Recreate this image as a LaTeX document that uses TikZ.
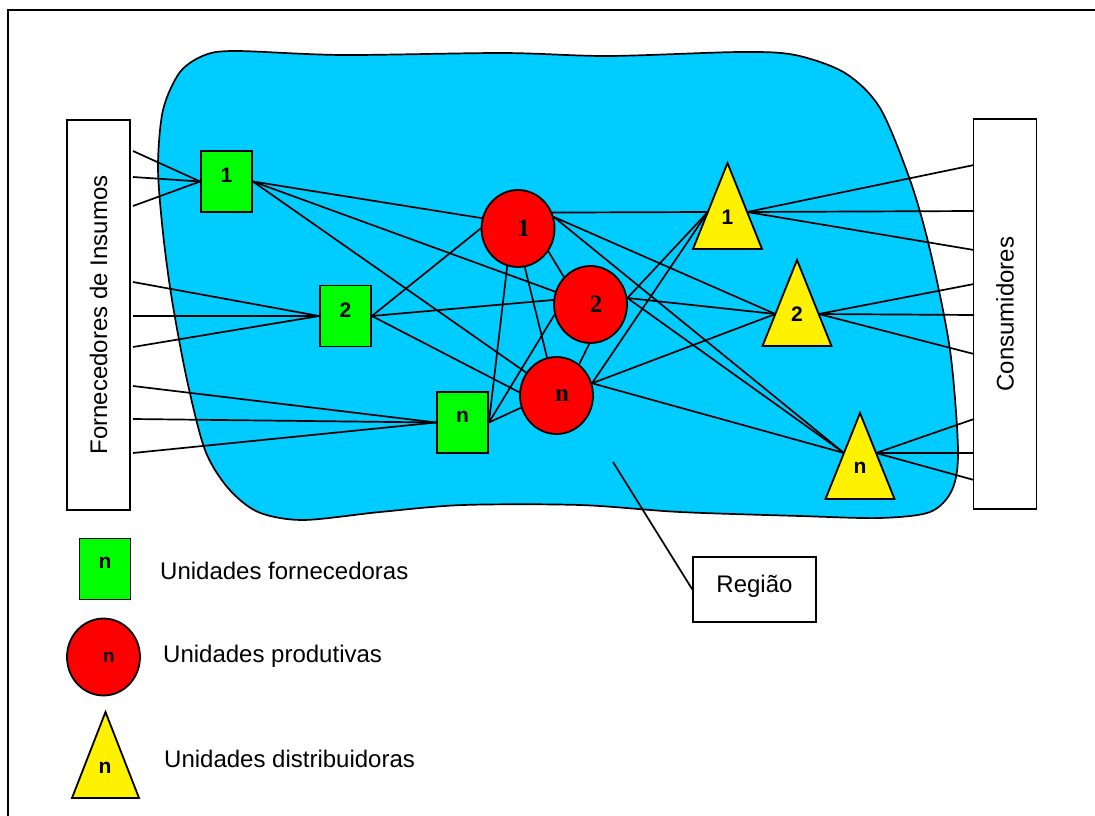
\documentclass[tikz,border=0pt]{standalone}
\usepackage{fontspec}
\setmainfont{Liberation Sans}
\newfontfamily\timesf{Liberation Serif}
\usetikzlibrary{shapes.geometric}

\definecolor{azulreg}{RGB}{0,204,255}

\tikzset{
    lig/.style={line width=1.7pt},
    forn/.style={draw, line width=1.8pt, fill=green, minimum width=51pt, minimum height=61pt,
        inner sep=0pt, font=\fontsize{21}{21}\selectfont\bfseries},
    prod/.style={draw, line width=1.8pt, fill=red, ellipse, minimum width=73pt, minimum height=77pt,
        inner sep=0pt, font=\fontsize{25}{25}\selectfont\timesf\bfseries},
    distr/.style={draw, line width=1.8pt, fill=yellow, line join=miter},
    rotulo/.style={font=\fontsize{21}{21}\selectfont\bfseries, inner sep=0pt},
    caixa/.style={draw, line width=1.3pt, fill=white, rotate=90, minimum width=390pt,
        minimum height=63pt, inner sep=0pt, font=\fontsize{24}{24}\selectfont},
    legenda/.style={anchor=base west, inner sep=0pt, font=\fontsize{24}{24}\selectfont},
}
\newcommand{\alto}[1]{\raisebox{12pt}{#1}}
\newcommand{\dir}[1]{\hspace*{11pt}#1}

\begin{document}
\begin{tikzpicture}[x=1pt, y=-1pt]
    \useasboundingbox (0,0) rectangle (1095,816);
    \draw[line width=2pt] (8,816) -- (8,10) -- (1095,10);

    % regiao
    \draw[lig, fill=azulreg] plot[smooth cycle] coordinates {
        (237,51) (342,55) (503,53) (608,56) (740,52) (795,55) (845,73) (880,108)
        (910,180) (930,250) (950,350) (958,450) (952,490) (930,512) (880,518)
        (800,516) (680,512) (580,505) (463,505) (380,512) (303,520) (258,512)
        (228,488) (205,450) (187,380) (172,300) (163,233) (158,167) (163,110)
        (180,72) (205,55)};

    % caixas laterais
    \node[caixa] (insumos) at (98.5,315) {Fornecedores de Insumos};
    \node[caixa] (consum) at (1005,314) {Consumidores};

    % unidades fornecedoras
    \node[forn] (f1) at (226.5,181.5) {\alto{1}};
    \node[forn] (f2) at (345.5,316) {\alto{2}};
    \node[forn] (fn) at (462.5,422.5) {\alto{n}};

    % unidades produtivas
    \node[prod] (p1) at (518,228.5) {\dir{1}};
    \node[prod] (p2) at (590.5,304.5) {\dir{2}};
    \node[prod] (pn) at (556.5,395.5) {\dir{n}};

    % unidades distribuidoras
    \foreach \n/\x/\y/\a in {1/727.5/206/212, 2/797/303/314, n/860/456/453}
    {
        \draw[distr] (\x-34.5,\y+43) -- (\x,\y-43) -- (\x+34.5,\y+43) -- cycle;
        \node[rotulo] (d\n) at (\x,\y+11.5) {\n};
        \coordinate (de\n) at ({\x-34.5*(\a-\y+43)/86},\a);
        \coordinate (ds\n) at ({\x+34.5*(\a-\y+43)/86},\a);
    }

    % ligacoes
    \foreach \y/\f [count=\k] in {151/1,177/1,206/1,282/2,316/2,347/2,386/n,419/n,453/n}
    {
        \coordinate (i\k) at (133,\y);
        \draw[lig] (i\k) -- (f\f.west);
    }
    \foreach \f/\p/\ang in {1/1/164, 1/2/160, 1/n/143, 2/1/180, 2/2/173, 2/n/175,
        n/1/254, n/2/196, n/n/199}
        \draw[lig] (f\f.east) -- (p\p.\ang);
    \draw[lig] (p1.323) -- (p2.134);
    \draw[lig] (p1.280) -- (pn.104);
    \draw[lig] (p2.268) -- (pn.54);
    \foreach \p/\ang/\d in {1/25/1, 1/18/2, 1/18/n, 2/10/1, 2/10/2, 2/10/n,
        n/19/1, n/19/2, n/19/n}
        \draw[lig] (p\p.\ang) -- (de\d);
    \foreach \y/\d [count=\k] in {165/1,211/1,250/1,284/2,315/2,354/2,419/n,453/n,480/n}
    {
        \coordinate (c\k) at (974,\y);
        \draw[lig] (ds\d) -- (c\k);
    }

    % regiao
    \node[draw, line width=1.3pt, minimum width=123pt, minimum height=65pt,
        font=\fontsize{24}{24}\selectfont] (regiao) at (754.5,589.5) {\alto{Região}};
    \coordinate (ponta) at (613,462);
    \draw[lig] (ponta) -- (regiao.west);

    % legenda
    \node[forn] (lf) at (105,569) {\alto{n}};
    \node[prod, font=\fontsize{19}{19}\selectfont\bfseries] (lp) at (103.5,657) {\dir{n}};
    \draw[distr] (72,798) -- (105.5,712) -- (139,798) -- cycle;
    \node[rotulo] (ld) at (105,768) {n};
    \node[legenda] (tf) at (160,579) {Unidades fornecedoras};
    \node[legenda] (tp) at (163,662) {Unidades produtivas};
    \node[legenda] (td) at (164,767) {Unidades distribuidoras};
\end{tikzpicture}
\end{document}
